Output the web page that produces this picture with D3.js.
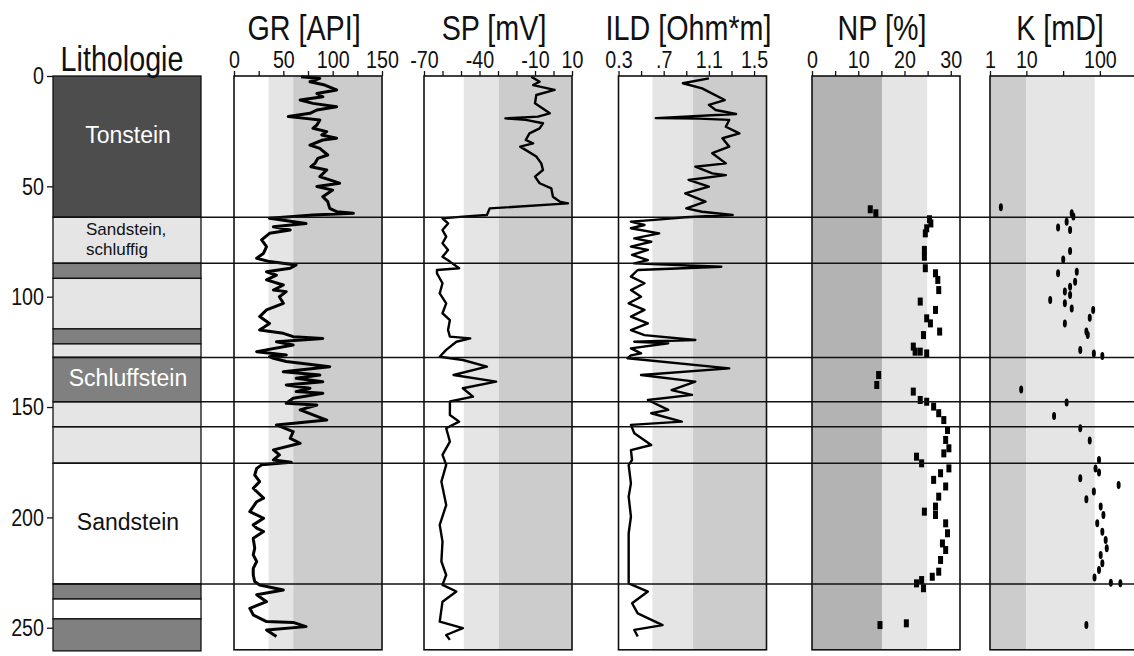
<!DOCTYPE html>
<html>
<head>
<meta charset="utf-8">
<script src="https://cdn.jsdelivr.net/npm/d3@7"></script>
<style>
body { margin: 0; background: #fff; }
text { font-family: "Liberation Sans", Arial, sans-serif; }
</style>
</head>
<body>
<script>
// depth axis
var depthMax = 260;
var depthTicks = [0, 50, 100, 150, 200, 250];

// lithology layers: top, bottom, type
var lithoLayers = [
    [0, 64, "ton"], [64, 84.9, "sandS"], [84.9, 91.7, "schluff"], [91.7, 114.6, "sandS"],
    [114.6, 121.4, "schluff"], [121.4, 127.5, "sandS"], [127.5, 147.6, "schluff"],
    [147.6, 158.9, "sandS"], [158.9, 175.5, "sandS"], [175.5, 230.2, "sand"],
    [230.2, 237, "schluff"], [237, 246, "sand"], [246, 260.5, "schluff"]
];
var lithoColors = { ton: "#4d4d4d", schluff: "#808080", sandS: "#e5e5e5", sand: "#ffffff" };
var lithoLabels = [
    { lines: ["Tonstein"], top: 0, bottom: 55, color: "#fff" },
    { lines: ["Sandstein,", "schluffig"], top: 64, bottom: 84.9, color: "#111" },
    { lines: ["Schluffstein"], top: 127.5, bottom: 147.6, color: "#fff" },
    { lines: ["Sandstein"], top: 175.5, bottom: 230.2, color: "#111" }
];
// boundaries drawn across all tracks
var boundaries = [64, 84.9, 127.5, 147.6, 158.9, 175.5, 230.2];

// GR [API] : depth, value
var grData = [
    [0.3,68],[1.1,87],[2.6,77],[4.1,92],[6.3,104],[7.9,84],[9.4,90],[10.9,67],[12.4,80],[13.9,104],
    [15.4,84],[16.9,77],[18.4,55],[19.2,72],[19.9,87],[22.2,84],[23.7,80],[25.2,94],[26.7,89],[28.2,104],
    [29,90],[31.3,77],[32.8,87],[35.8,95],[37.3,85],[39.6,82],[41.1,78],[42.6,94],[45.6,87],[47.1,97],
    [48.6,107],[50.1,84],[51.7,100],[54.7,90],[56.9,95],[60,97],[61.5,104],[62.2,121],[63,80],[63.7,60],
    [64.5,36],[66.8,73],[68.3,40],[69.8,57],[71.3,36],[74.3,28],[77.3,33],[80.3,30],[82.6,23],[84.1,36],
    [85.6,63],[87.1,57],[88.7,33],[90.2,43],[92.4,33],[94.7,50],[97,40],[97.7,53],[100,46],[103,50],
    [106,33],[109,26],[112.1,36],[115.1,26],[116.6,50],[118.1,60],[118.9,90],[120.4,43],[121.9,60],[124.9,23],
    [126.4,53],[127.2,36],[127.9,40],[129.4,53],[131.7,97],[134,50],[135.5,87],[137,63],[138.5,90],[140,53],
    [141.5,77],[143,63],[143.8,90],[146,60],[148.3,53],[149.1,84],[151.3,67],[155.9,94],[158.1,43],[161.1,60],
    [164.2,57],[166.4,67],[169.4,40],[171.7,46],[174,40],[175,58],[176.2,28],[177.8,23],[180.8,21],[183.8,26],
    [186.8,19.5],[191.3,30],[192.9,23],[197.4,16],[200.4,30],[203.4,19.5],[204.9,23],[206.4,30],[209.5,19.5],[214,21],
    [217,19.5],[220,23],[223.1,19.5],[226.1,19.5],[229.1,21],[230.6,26],[232.9,50],[235.1,23],[238.2,33],[241.2,16],
    [244.2,19.5],[247.2,33],[247.6,60],[249.5,73],[251,33],[254,43]
];

// SP [mV]
var spData = [
    [0.3,-12],[2.6,-7.5],[4.1,-11],[6.3,0.6],[8.6,-9.3],[12.4,-10],[16.9,-2],[18.4,-8.4],[19.2,-26],[19.9,-15],
    [21.4,-5.7],[23.7,-7.5],[26,-13],[29,-15],[30.5,-11],[32,-18],[36.5,-9.3],[39.6,-6.6],[42.6,-5.7],[45.6,-10],
    [48.6,-7.5],[50.9,-1.2],[54.7,-0.3],[56.9,3.3],[57.7,7.8],[60,-34.5],[63,-36],[63.7,-49],[64.5,-60],[66.8,-57],
    [69.8,-60],[72.8,-58],[75.8,-60],[78.8,-57],[81.9,-60],[84.1,-56],[87.1,-51],[87.9,-63],[89.4,-63],[93.9,-60],
    [98.5,-61.5],[103,-58],[107.5,-60],[110.6,-56],[115.1,-57],[118.1,-56],[118.9,-45],[120.4,-52.5],[124.1,-58],[127.2,-61.5],
    [128.7,-49],[131.7,-36],[135.5,-54],[138.5,-31],[141.5,-49],[145.3,-43.5],[147.5,-56],[153.6,-56],[156.6,-51],[159.6,-58],
    [165.7,-56],[171.7,-60],[176.2,-58],[183.8,-60.6],[194.4,-58],[203.4,-61.5],[211,-60],[220,-60.6],[226.1,-58],[230.6,-60],
    [233.6,-52.5],[238.2,-60],[247.2,-61.5],[250.2,-49],[253.3,-58],[255.5,-56]
];

// ILD [Ohm*m]
var ildData = [
    [1.1,1.10],[3.3,0.87],[5.6,1.04],[10.9,1.24],[13.1,1.10],[15.4,1.16],[17.2,1.34],[19.1,0.63],[19.3,1.01],[19.9,1.28],
    [23,1.25],[26,1.37],[28.2,1.22],[32,1.28],[35,1.13],[39.6,1.25],[41.1,0.98],[44.1,1.13],[44.9,1.25],[47.1,0.92],
    [50.1,1.10],[53.2,0.89],[56.9,1.07],[60,0.90],[61.5,1.04],[63,1.31],[64,0.89],[65.2,0.62],[66,0.41],[67.5,0.53],
    [69,0.41],[71.3,0.66],[73.6,0.44],[75.1,0.59],[77.3,0.41],[78.8,0.56],[81.1,0.42],[83.4,0.56],[84.9,0.44],[86.4,1.21],
    [87.9,0.47],[90.9,0.41],[93.9,0.53],[97,0.41],[100,0.50],[103,0.39],[106,0.53],[109,0.41],[112.1,0.56],[115.1,0.41],
    [117.4,0.53],[119.6,0.98],[120.4,0.44],[121.1,0.74],[123.4,0.41],[125.7,0.50],[126.6,0.41],[127.9,0.38],[132.5,1.28],[135.5,0.50],
    [138.5,0.98],[142.3,0.77],[144.5,0.95],[146.8,0.56],[151.3,0.74],[152.8,0.59],[156.6,0.86],[158.1,0.41],[161.9,0.44],[167.2,0.59],
    [169.5,0.41],[174,0.42],[176.3,0.39],[184.6,0.41],[190.6,0.39],[199.7,0.41],[207.2,0.39],[217.8,0.39],[229.9,0.39],[233.6,0.56],
    [238.9,0.42],[243.5,0.47],[248.8,0.69],[251,0.44],[254,0.47]
];

// NP [%] core samples
var npData = [
    [60.4,12.6],[62.2,13.8],[64.9,25.4],[66.8,25.7],[69,24.8],[71.3,24.5],[78.8,24.3],[81.9,24.3],[87.1,24.5],[89.4,26.7],
    [92.4,27.2],[97,27.4],[102.2,23.4],[106,26.7],[109.8,24.8],[112.1,25.6],[115.8,27.6],[117.4,24.1],[122.6,21.9],[124.9,23.4],
    [125.7,24.8],[124.9,22.3],[135.5,14.4],[140,14],[143,21.9],[146.8,23.4],[147.6,24.8],[149.8,26.3],[152.8,27.4],[155.9,28.5],
    [160.4,29.3],[164.9,28.9],[168.7,29.6],[171,28.5],[172.5,22.6],[175.5,23.7],[177.8,29.6],[180,27.8],[183,26.3],[186,28.9],
    [190.6,27.4],[195.1,26.7],[197.4,24.3],[198.9,26.7],[202.7,28.9],[207.2,29.3],[211.8,28.2],[214.8,28.9],[219.3,27.8],[224.6,27.4],
    [226.9,26],[228.4,23.7],[229.9,22.6],[232.1,24.1],[248.8,14.7],[248,20.4]
];

// K [mD] core samples
var kData = [
    [59.5,4.5],[62.2,41.4],[63.7,43.6],[66,35.3],[68.6,27],[69.8,39.3],[79.3,39.3],[83.1,31.7],[88.7,48.5],[89.4,27],
    [93.2,46],[95.5,39.3],[97.7,33.4],[99.2,39.3],[101.5,21.1],[103,33.4],[105.3,41.4],[106,81],[109.5,72.8],[112.1,33.4],
    [115.8,65.5],[117.4,68.4],[124.1,54.1],[125.7,82.8],[126.9,108],[142,8.5],[148,35.3],[154.1,23.8],[159.6,54.1],[165.2,72.8],
    [174,97.3],[177.8,87.3],[179.7,97.3],[182.3,54.1],[185.3,180],[188.3,82.8],[191.8,65.5],[195.1,102.6],[198.9,111.7],[202.7,92],
    [206.5,108],[210.2,120],[214,124],[217,102.6],[220.8,108],[223.8,97.3],[227.2,84.5],[229.6,141],[229.9,190],[248.8,65.5]
];

// tick values and labels for each track
var grTicks = [0, 25, 50, 75, 100, 125, 150];
var grLabels = ["0", "", "50", "", "100", "", "150"];
var spTicks = [-70, -60, -50, -40, -30, -20, -10, 0, 10];
var spLabels = ["-70", "", "", "-40", "", "", "-10", "", "10"];
var ildTicks = [0.3, 0.5, 0.7, 0.9, 1.1, 1.3, 1.5];
var ildLabels = ["0.3", "", ".7", "", "1.1", "", "1.5"];
var npTicks = [0, 5, 10, 15, 20, 25, 30];
var npLabels = ["0", "", "10", "", "20", "", "30"];
var kTicks = [3.2, 10, 31.6, 100];
var kLabels = ["1", "10", "", "100"];

var W = 1134, H = 656;
var top0 = 76;
var narrow = "scale(0.82,1)";

var svg = d3.select("body").append("svg")
    .attr("width", W)
    .attr("height", H);

var y = d3.scaleLinear().domain([0, depthMax]).range([top0, 649.8]);

var tracks = [
    { title: "GR [API]", x0: 234, x1: 382, scale: d3.scaleLinear().domain([0, 150]),
      ticks: grTicks, labels: grLabels, shades: [[35, 60, "#e5e5e5"], [60, 150, "#cccccc"]], line: grData, lw: 3 },
    { title: "SP [mV]", x0: 424, x1: 572, scale: d3.scaleLinear().domain([-70, 10]),
      ticks: spTicks, labels: spLabels, shades: [[-48.5, -29.6, "#e5e5e5"], [-29.6, 10, "#cccccc"]], line: spData, lw: 2.4 },
    { title: "ILD [Ohm*m]", x0: 618.5, x1: 766.5, scale: d3.scaleLinear().domain([0.3, 1.61]),
      ticks: ildTicks, labels: ildLabels, shades: [[0.6, 0.96, "#e5e5e5"], [0.96, 1.61, "#cccccc"]], line: ildData, lw: 2.4 },
    { title: "NP [%]", x0: 812, x1: 960, scale: d3.scaleLinear().domain([0, 32]),
      ticks: npTicks, labels: npLabels, shades: [[0, 15.2, "#b3b3b3"], [15.2, 24.9, "#e5e5e5"]], pts: npData, mark: "rect" },
    { title: "K [mD]", x0: 990, x1: 1138, scale: d3.scaleLog().domain([3.2, 330]),
      ticks: kTicks, labels: kLabels, shades: [[3.2, 10, "#cccccc"], [10, 85, "#e5e5e5"]], pts: kData, mark: "ellipse" }
];

// lithology column
var lx0 = 53, lx1 = 201;
svg.append("g").selectAll("rect")
    .data(lithoLayers)
    .enter()
    .append("rect")
    .attr("x", lx0)
    .attr("y", function(d) { return y(d[0]); })
    .attr("width", lx1 - lx0)
    .attr("height", function(d) { return y(d[1]) - y(d[0]); })
    .style("fill", function(d) { return lithoColors[d[2]]; })
    .attr("stroke", "#111")
    .attr("stroke-width", 1.3);

var lab = svg.append("g").selectAll("text")
    .data(lithoLabels)
    .enter()
    .append("text")
    .style("fill", function(d) { return d.color; })
    .attr("font-size", function(d) { return d.lines.length > 1 ? 17 : 23; })
    .attr("text-anchor", function(d) { return d.lines.length > 1 ? "start" : "middle"; })
    .attr("x", function(d) { return d.lines.length > 1 ? 86 : (lx0 + lx1) / 2 + 1; })
    .attr("y", function(d) { return (y(d.top) + y(d.bottom)) / 2; })
    .attr("dominant-baseline", "middle");
lab.each(function(d) {
    var t = d3.select(this);
    if (d.lines.length > 1) {
        d.lines.forEach(function(s, i) {
            t.append("tspan").attr("x", 86).attr("dy", i == 0 ? "-0.55em" : "1.2em").text(s);
        });
    } else {
        t.text(d.lines[0]);
    }
});

// depth axis
var yAxis = svg.append("g")
    .attr("transform", "translate(" + lx0 + ",0)")
    .call(d3.axisLeft(y).tickValues(depthTicks).tickSize(6).tickPadding(5));
yAxis.select(".domain").remove();
yAxis.selectAll("line").attr("stroke", "#111").attr("stroke-width", 1.3);
yAxis.selectAll("text").attr("font-size", 24).style("fill", "#111")
    .attr("font-family", "Liberation Sans, Arial, sans-serif")
    .attr("transform", narrow);

svg.append("text")
    .attr("transform", "translate(122,71) " + narrow)
    .attr("text-anchor", "middle")
    .attr("font-size", 35)
    .style("fill", "#111")
    .text("Lithologie");

// tracks
tracks.forEach(function(t) {
    var x = t.scale.range([t.x0, t.x1]);
    var g = svg.append("g");

    g.selectAll(".shade")
        .data(t.shades)
        .enter()
        .append("rect")
        .attr("x", function(d) { return x(d[0]); })
        .attr("y", y(0))
        .attr("width", function(d) { return x(d[1]) - x(d[0]); })
        .attr("height", y(depthMax) - y(0))
        .style("fill", function(d) { return d[2]; });

    if (t.line) {
        g.append("path")
            .datum(t.line)
            .attr("fill", "none")
            .attr("stroke", "#000")
            .attr("stroke-width", t.lw)
            .attr("stroke-linejoin", "round")
            .attr("d", d3.line()
                .x(function(d) { return x(d[1]); })
                .y(function(d) { return y(d[0]); }));
    }
    if (t.pts && t.mark == "rect") {
        g.selectAll(".pt")
            .data(t.pts)
            .enter()
            .append("rect")
            .attr("x", function(d) { return x(d[1]) - 2.5; })
            .attr("y", function(d) { return y(d[0]) - 4; })
            .attr("width", 5)
            .attr("height", 8)
            .style("fill", "#000");
    }
    if (t.pts && t.mark == "ellipse") {
        g.selectAll(".pt")
            .data(t.pts)
            .enter()
            .append("ellipse")
            .attr("cx", function(d) { return x(d[1]); })
            .attr("cy", function(d) { return y(d[0]); })
            .attr("rx", 2)
            .attr("ry", 4)
            .style("fill", "#000");
    }

    g.append("rect")
        .attr("x", t.x0)
        .attr("y", y(0))
        .attr("width", t.x1 - t.x0)
        .attr("height", y(depthMax) - y(0))
        .attr("fill", "none")
        .attr("stroke", "#111")
        .attr("stroke-width", 1.6);

    var ax = g.append("g")
        .attr("transform", "translate(0," + y(0) + ")")
        .call(d3.axisTop(x).tickValues(t.ticks)
            .tickFormat(function(d, i) { return t.labels[i]; })
            .tickSize(5).tickPadding(3));
    ax.select(".domain").remove();
    ax.selectAll("line").attr("stroke", "#111").attr("stroke-width", 1.3);
    ax.selectAll("text").attr("font-size", 24).style("fill", "#111")
        .attr("font-family", "Liberation Sans, Arial, sans-serif")
        .attr("transform", narrow);

    svg.append("text")
        .attr("transform", "translate(" + ((t.x0 + t.x1) / 2 - 4) + ",40) " + narrow)
        .attr("text-anchor", "middle")
        .attr("font-size", 35)
        .style("fill", "#111")
        .text(t.title);
});

// formation boundaries across the whole section
svg.append("g").selectAll("line")
    .data(boundaries)
    .enter()
    .append("line")
    .attr("x1", lx0)
    .attr("x2", W)
    .attr("y1", function(d) { return y(d); })
    .attr("y2", function(d) { return y(d); })
    .attr("stroke", "#111")
    .attr("stroke-width", 1.5);
</script>
</body>
</html>
